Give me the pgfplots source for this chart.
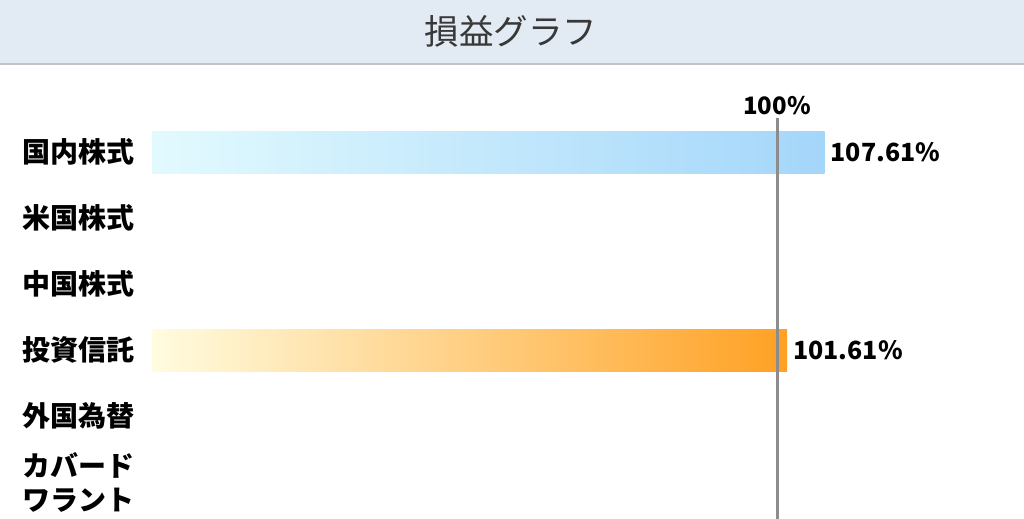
\documentclass[border=0pt]{standalone}
\usepackage{pgfplots}
\pgfplotsset{compat=1.18}
\usepackage{fontspec}
\setmainfont{Noto Sans CJK JP}

\definecolor{headbg}{HTML}{E2EAF3}
\definecolor{headline}{HTML}{C2C2CA}
\definecolor{blueL}{HTML}{E2FAFE}
\definecolor{blueR}{HTML}{A4D6FA}
\definecolor{orangeL}{HTML}{FFFCE0}
\definecolor{orangeR}{HTML}{FFA124}
\definecolor{refline}{HTML}{8C8C8C}

\begin{document}
\begin{tikzpicture}
  \path[use as bounding box] (0,0) rectangle (1024bp,-519bp);
  % header band
  \fill[headbg] (0,0) rectangle (1024bp,-63bp);
  \fill[headline] (0,-63bp) rectangle (1024bp,-65bp);
  \node[text=black!78, font=\fontsize{34.5bp}{38bp}\selectfont] at (511bp,-31bp) {損益グラフ};

  \begin{axis}[
    at={(152bp,-86bp)}, anchor=north west,
    scale only axis,
    width=812.5bp, height=433bp,
    xmin=0, xmax=130,
    ymin=-1, ymax=5.56,
    y dir=reverse,
    axis line style={draw=none},
    xtick=\empty,
    ytick={0,1,2,3,4,5},
    yticklabels={国内株式,米国株式,中国株式,投資信託,外国為替,{カバード\\ワラント}},
    major tick length=0pt,
    yticklabel style={anchor=west, inner sep=0pt, xshift=-130bp, align=left,
      font=\bfseries\fontsize{28bp}{34bp}\selectfont},
    clip=false,
    xbar, bar width=42bp, bar shift=0pt,
    nodes near coords={\pgfmathprintnumber[fixed,precision=2,fixed zerofill,assume math mode=true]{\pgfplotspointmeta}\%},
    point meta=x,
    nodes near coords style={anchor=west, inner sep=0pt, xshift=6bp,
      font=\bfseries\fontsize{25bp}{28bp}\selectfont},
  ]
    \addplot[draw=none, left color=blueL, right color=blueR] coordinates {(107.61,0)};
    \addplot[draw=none, left color=orangeL, right color=orangeR] coordinates {(101.61,3)};
    \draw[refline, line width=3bp] (axis cs:100,-0.515) -- (axis cs:100,5.6);
    \node[font=\bfseries\fontsize{24bp}{26bp}\selectfont, inner sep=0pt] at (axis cs:100,-0.7) {100\%};
  \end{axis}
\end{tikzpicture}
\end{document}
